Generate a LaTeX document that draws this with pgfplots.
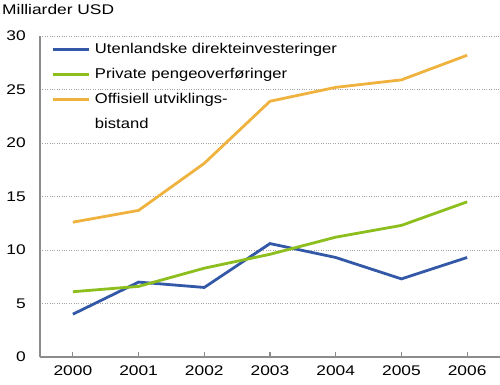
\documentclass[border=0pt]{standalone}
\usepackage{fontspec}
\setmainfont{Liberation Sans}[FakeStretch=1.24]
\usepackage{pgfplots}
\pgfplotsset{compat=1.18}
\definecolor{cblue}{RGB}{52,88,168}
\definecolor{cgreen}{RGB}{140,190,30}
\definecolor{corange}{RGB}{240,178,62}
\definecolor{axgray}{RGB}{140,140,140}
\begin{document}
\fontsize{14}{24}\selectfont
\begin{tikzpicture}
\useasboundingbox (-40pt,-28pt) rectangle (460pt,357pt);
\begin{axis}[
  at={(0pt,0pt)}, anchor=south west,
  scale only axis, width=460pt, height=321pt,
  xmin=1999.5, xmax=2006.5, ymin=0, ymax=30,
  xtick={2000,2001,2002,2003,2004,2005,2006},
  xticklabels={2000,2001,2002,2003,2004,2005,2006},
  ytick={0,5,10,15,20,25,30},
  /pgf/number format/assume math mode=true,
  font=\fontsize{14}{16}\selectfont,
  axis x line*=bottom, axis y line*=left,
  axis line style={-, axgray, line width=1.5pt},
  tick align=inside, major tick length=5pt,
  xtick style={axgray, line width=1.2pt},
  ytick style={draw=none},
  xticklabel style={anchor=north, inner sep=0pt, yshift=-9pt},
  yticklabel style={anchor=east, inner sep=0pt, xshift=-14pt},
  ymajorgrids,
  major grid style={axgray!80, line width=0.8pt, dash pattern=on 0.8pt off 1.6pt},
  legend cell align=left,
  legend style={at={(axis description cs:0,1)}, anchor=north west,
    xshift=11pt, yshift=-7pt, draw=none, fill=none, inner sep=0pt,
    row sep=12pt,
    font=\fontsize{14.2}{16}\selectfont\addfontfeature{FakeStretch=1.17},
    nodes={inner sep=0pt, text height=10pt, text depth=3pt}},
  legend image code/.code={\draw[#1] (0pt,0pt) -- (36pt,0pt); \path (41pt,0pt);},
]
\addplot[cblue, line width=2.8pt] coordinates {
(2000,4.0) (2001,7.0) (2002,6.5) (2003,10.6) (2004,9.3) (2005,7.3) (2006,9.3)};
\addlegendentry{Utenlandske direkteinvesteringer}
\addplot[cgreen, line width=2.8pt] coordinates {
(2000,6.1) (2001,6.6) (2002,8.3) (2003,9.6) (2004,11.2) (2005,12.3) (2006,14.5)};
\addlegendentry{Private pengeoverføringer}
\addplot[corange, line width=2.8pt] coordinates {
(2000,12.6) (2001,13.7) (2002,18.1) (2003,23.9) (2004,25.2) (2005,25.9) (2006,28.2)};
\addlegendentry{Offisiell utviklings-}
\addlegendimage{empty legend}
\addlegendentry{bistand}
\end{axis}
\node[anchor=base west, inner sep=0pt] at (-38pt,342pt) {Milliarder USD};
\end{tikzpicture}
\end{document}
